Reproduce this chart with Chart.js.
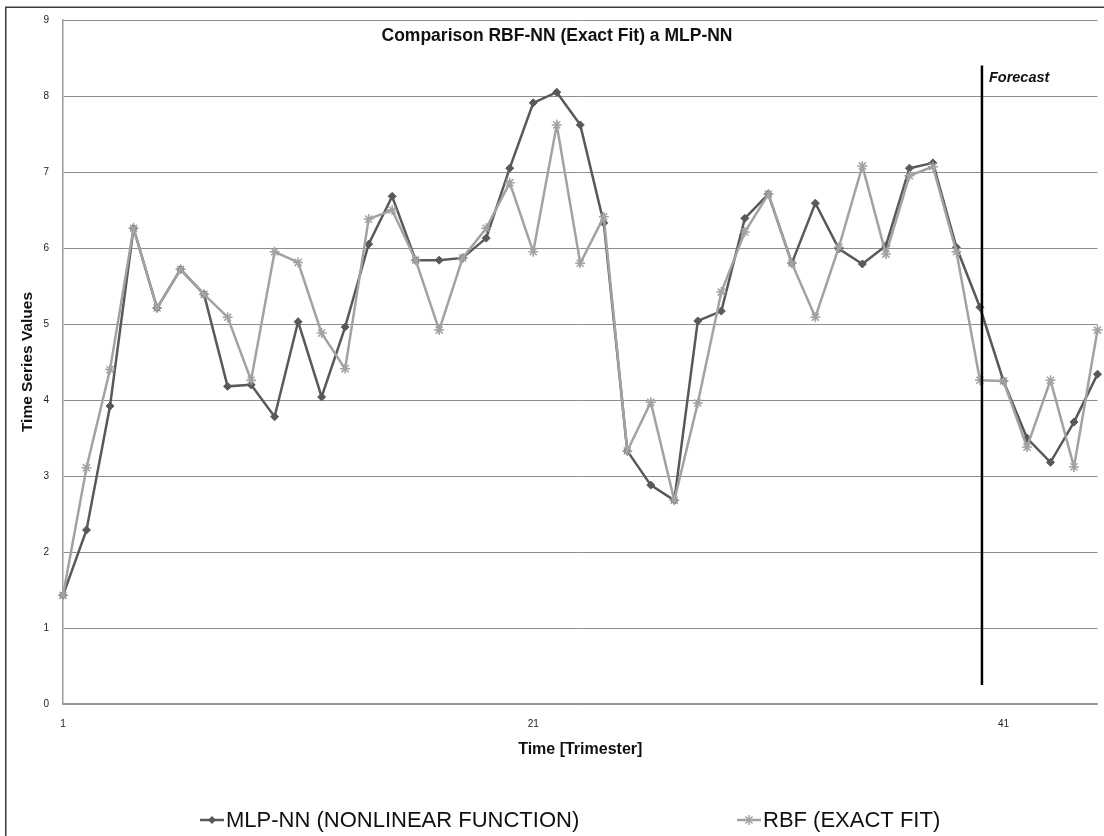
<!DOCTYPE html>
<html>
<head>
<meta charset="utf-8">
<script src="https://cdn.jsdelivr.net/npm/chart.js@4.4.1/dist/chart.umd.min.js"></script>
<style>
html,body{margin:0;padding:0;background:#fff;overflow:hidden}
#wrap{position:relative;width:1104px;height:836px}
</style>
</head>
<body>
<div id="wrap"><canvas id="c" width="1104" height="836"></canvas></div>
<script>
// ---- data ----
const categories = ['1','2','3','4','5','6','7','8','9','10','11','12','13','14','15','16','17','18','19','20','21','22','23','24','25','26','27','28','29','30','31','32','33','34','35','36','37','38','39','40','41','42','43','44','45'];
const mlpValues = [1.43,2.29,3.92,6.26,5.21,5.72,5.39,4.18,4.20,3.78,5.03,4.04,4.96,6.05,6.68,5.84,5.84,5.87,6.13,7.05,7.91,8.05,7.62,6.33,3.33,2.88,2.68,5.04,5.17,6.39,6.71,5.80,6.59,5.99,5.79,6.03,7.05,7.12,6.01,5.22,4.25,3.50,3.18,3.71,4.34];
const rbfValues = [1.43,3.11,4.40,6.26,5.21,5.72,5.39,5.09,4.26,5.95,5.81,4.88,4.41,6.38,6.50,5.84,4.92,5.87,6.26,6.86,5.95,7.62,5.80,6.41,3.33,3.97,2.68,3.96,5.42,6.21,6.71,5.80,5.09,6.01,7.08,5.92,6.95,7.07,5.95,4.26,4.25,3.38,4.26,3.12,4.92];
const xTickLabels = ['1','21','41'];
const yMin = 0, yMax = 9, yStep = 1;
const seriesNames = ['MLP-NN (NONLINEAR FUNCTION)', 'RBF (EXACT FIT)'];
const chartTitle = 'Comparison RBF-NN (Exact Fit) a MLP-NN';
const xTitle = 'Time [Trimester]';
const yTitle = 'Time Series Values';
const forecastLabel = 'Forecast';
const forecastAt = '40';
const forecastSpan = [0.25, 8.4];

// ---- styles ----
const MLP_COLOR = '#595959';
const RBF_COLOR = '#a2a2a2';
const FONT = '"Liberation Sans", Arial, sans-serif';

function drawMarker(ctx, style, x, y, r, color){
  ctx.save();
  ctx.strokeStyle = color; ctx.fillStyle = color; ctx.lineWidth = 1.5;
  if (style === 'rectRot') {
    ctx.beginPath();
    ctx.moveTo(x, y - r); ctx.lineTo(x + r, y); ctx.lineTo(x, y + r); ctx.lineTo(x - r, y); ctx.closePath();
    ctx.fill();
  } else {
    ctx.beginPath();
    for (let k = 0; k < 4; k++) {
      const a = k * Math.PI / 4;
      ctx.moveTo(x - r * Math.cos(a), y - r * Math.sin(a));
      ctx.lineTo(x + r * Math.cos(a), y + r * Math.sin(a));
    }
    ctx.stroke();
  }
  ctx.restore();
}

const decor = {
  id: 'decor',
  beforeDraw(chart){
    const ctx = chart.ctx;
    ctx.save();
    ctx.fillStyle = '#fff';
    ctx.fillRect(0, 0, chart.width, chart.height);
    ctx.restore();
  },
  afterDraw(chart){
    const ctx = chart.ctx;
    const xs = chart.scales.x, ys = chart.scales.y;
    ctx.save();
    // outer frame
    ctx.strokeStyle = '#3a3a3a'; ctx.lineWidth = 1.5;
    ctx.beginPath();
    ctx.moveTo(5.75, chart.height); ctx.lineTo(5.75, 7.25); ctx.lineTo(chart.width, 7.25);
    ctx.stroke();
    // title
    ctx.fillStyle = '#111';
    ctx.font = 'bold 17.5px ' + FONT;
    ctx.textAlign = 'center'; ctx.textBaseline = 'middle';
    ctx.fillText(chartTitle, chart.width / 2 + 5, 36);
    // forecast line
    const fx = xs.getPixelForValue(categories.indexOf(forecastAt)) + 2;
    ctx.strokeStyle = '#000'; ctx.lineWidth = 2.5;
    ctx.beginPath();
    ctx.moveTo(fx, ys.getPixelForValue(forecastSpan[1]));
    ctx.lineTo(fx, ys.getPixelForValue(forecastSpan[0]));
    ctx.stroke();
    ctx.font = 'italic bold 14.5px ' + FONT;
    ctx.textAlign = 'left'; ctx.textBaseline = 'middle';
    ctx.fillStyle = '#111';
    ctx.fillText(forecastLabel, fx + 7, 78);
    // legend
    const items = [
      {x: 200, color: MLP_COLOR, style: 'rectRot', r: 4},
      {x: 737, color: RBF_COLOR, style: 'star', r: 5}
    ];
    const ly = 820;
    ctx.font = '22px ' + FONT;
    items.forEach((it, i) => {
      ctx.strokeStyle = it.color; ctx.lineWidth = 2.5;
      ctx.beginPath(); ctx.moveTo(it.x, ly); ctx.lineTo(it.x + 24, ly); ctx.stroke();
      drawMarker(ctx, it.style, it.x + 12, ly, it.r, it.color);
      ctx.fillStyle = '#111';
      ctx.textAlign = 'left'; ctx.textBaseline = 'middle';
      ctx.fillText(chart.data.datasets[i].label, it.x + 26, ly + 1);
    });
    ctx.restore();
  }
};

new Chart(document.getElementById('c'), {
  type: 'line',
  data: {
    labels: categories,
    datasets: [
      {
        label: seriesNames[0], data: mlpValues, order: 1,
        borderColor: MLP_COLOR, backgroundColor: MLP_COLOR, borderWidth: 2.5,
        pointStyle: 'rectRot', pointRadius: 4, pointBorderWidth: 1,
        pointBackgroundColor: MLP_COLOR, pointBorderColor: MLP_COLOR, tension: 0
      },
      {
        label: seriesNames[1], data: rbfValues, order: 0,
        borderColor: RBF_COLOR, backgroundColor: RBF_COLOR, borderWidth: 2.5,
        pointStyle: 'star', pointRadius: 5, pointBorderWidth: 1.5,
        pointBorderColor: RBF_COLOR, tension: 0
      }
    ]
  },
  options: {
    responsive: false,
    animation: false,
    layout: { padding: { left: 6, top: 20, right: 3, bottom: 0 } },
    plugins: {
      legend: { display: false },
      title: { display: false },
      tooltip: { enabled: false }
    },
    scales: {
      x: {
        type: 'category',
        offset: false,
        grid: { display: false, drawTicks: false },
        border: { display: true, color: '#999', width: 1.5 },
        ticks: {
          autoSkip: false, maxRotation: 0, minRotation: 0, padding: 14,
          color: '#222', font: { family: FONT, size: 10 },
          callback: function(v, i){ return xTickLabels.includes(categories[i]) ? categories[i] : ''; }
        },
        title: {
          display: true, text: xTitle, color: '#111',
          font: { family: FONT, size: 16, weight: 'bold' },
          padding: { top: 0, bottom: 77 }
        },
        afterFit(scale){ scale.height = 132; scale.paddingRight = 0; scale.paddingLeft = 0; }
      },
      y: {
        min: yMin, max: yMax,
        grid: { color: '#8c8c8c', lineWidth: 1, drawTicks: false },
        border: { display: true, color: '#999', width: 1.5 },
        ticks: {
          stepSize: yStep, padding: 14, color: '#222',
          font: { family: FONT, size: 10 }
        },
        title: {
          display: true, text: yTitle, color: '#111',
          font: { family: FONT, size: 15.5, weight: 'bold' },
          padding: { top: 12, bottom: 0 }
        },
        afterFit(scale){ scale.width = 57; scale.paddingTop = 0; scale.paddingBottom = 0; }
      }
    }
  },
  plugins: [decor]
});
</script>
</body>
</html>
